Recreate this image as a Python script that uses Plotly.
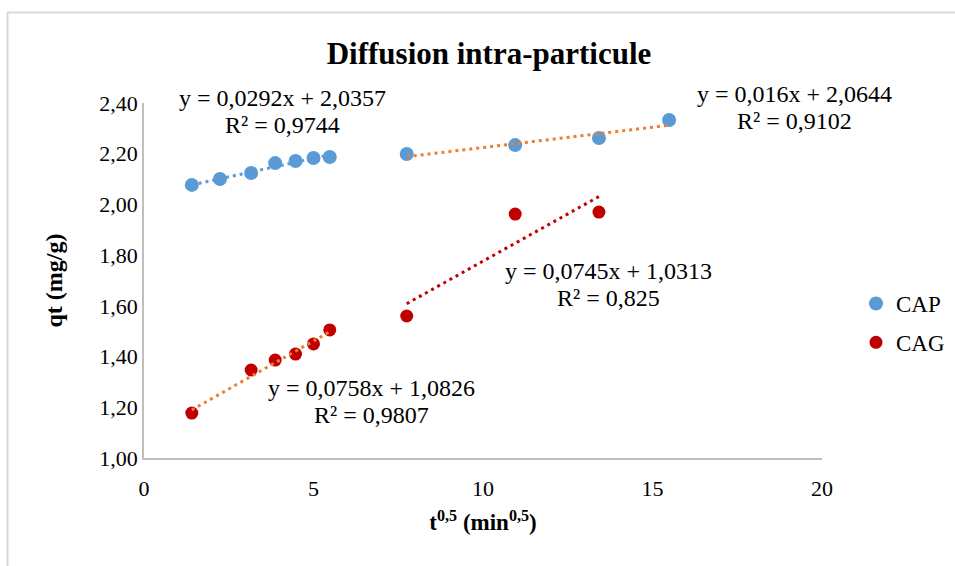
import plotly.graph_objects as go
import numpy as np

# ---- data ----
cap_x = [1.41, 2.24, 3.16, 3.87, 4.47, 5.00, 5.48, 7.75, 10.95, 13.42, 15.49]
cap_y = [2.077, 2.100, 2.124, 2.163, 2.171, 2.183, 2.187, 2.199, 2.234, 2.262, 2.333]
cag_x = [1.41, 3.16, 3.87, 4.47, 5.00, 5.48, 7.75, 10.95, 13.42]
cag_y = [1.177, 1.347, 1.386, 1.410, 1.450, 1.505, 1.560, 1.962, 1.970]

# trendlines: (x-start, x-end, slope, intercept)
trend_x0 = [1.41, 7.75, 1.41, 7.75]
trend_x1 = [5.48, 15.49, 5.48, 13.42]
trend_slope = [0.0292, 0.016, 0.0758, 0.0745]
trend_icpt = [2.0357, 2.0644, 1.0826, 1.0313]
trend_color = ["#5B9BD5", "#ED7D31", "#ED7D31", "#C00000"]
eq_line1 = ["y = 0,0292x + 2,0357", "y = 0,016x + 2,0644",
            "y = 0,0758x + 1,0826", "y = 0,0745x + 1,0313"]
eq_line2 = ["R² = 0,9744", "R² = 0,9102", "R² = 0,9807", "R² = 0,825"]
# label anchor positions in data units (x centre, y of first line)
eq_x = [4.1, 19.2, 6.7, 13.7]
eq_y = [2.418, 2.437, 1.277, 1.737]

x_ticks = [0, 5, 10, 15, 20]
y_ticks = [1.0, 1.2, 1.4, 1.6, 1.8, 2.0, 2.2, 2.4]
y_ticklabels = [f"{v:.2f}".replace(".", ",") for v in y_ticks]

FONT = "Liberation Serif"
W, H = 955, 566
L, R, T, B = 144, 133, 103, 108
XR = [0, 20]
YR = [1.0, 2.4]

fig = go.Figure()

def trend_trace(i):
    xs = np.array([trend_x0[i], trend_x1[i]])
    ys = trend_slope[i] * xs + trend_icpt[i]
    return go.Scatter(x=xs, y=ys, mode="lines",
                      line=dict(color=trend_color[i], width=3, dash="3px,4px"),
                      showlegend=False, hoverinfo="skip")

fig.add_trace(go.Scatter(x=cap_x, y=cap_y, mode="markers", name="CAP",
                         legendgroup="a",
                         marker=dict(color="#5B9BD5", size=14)))
fig.add_trace(go.Scatter(x=cag_x, y=cag_y, mode="markers", name="CAG",
                         legendgroup="b",
                         marker=dict(color="#C00000", size=13)))
for i in range(4):
    fig.add_trace(trend_trace(i))

# annotations in paper coordinates (computed from data values) so they are not clipped
def dx2paper(x):
    return (x - XR[0]) / (XR[1] - XR[0])
def dy2paper(y):
    return (y - YR[0]) / (YR[1] - YR[0])

anns = []
for i in range(4):
    anns.append(dict(x=dx2paper(eq_x[i]), y=dy2paper(eq_y[i]), xref="paper", yref="paper",
                     text=eq_line1[i], showarrow=False, xanchor="center", yanchor="middle",
                     font=dict(family=FONT, size=24, color="#000")))
    anns.append(dict(x=dx2paper(eq_x[i]), y=dy2paper(eq_y[i]), xref="paper", yref="paper",
                     text=eq_line2[i], showarrow=False, xanchor="center", yanchor="middle",
                     yshift=-27, font=dict(family=FONT, size=24, color="#000")))

# outer chart border (light gray), computed from pixel positions
pw, ph = W - L - R, H - T - B
def px2paper_x(px):
    return (px - L) / pw
def px2paper_y(py):
    return (H - B - py) / ph

shapes = [
    dict(type="line", xref="paper", yref="paper",
         x0=px2paper_x(7), x1=px2paper_x(W + 5), y0=px2paper_y(12.5), y1=px2paper_y(12.5),
         line=dict(color="#D9D9D9", width=2)),
    dict(type="line", xref="paper", yref="paper",
         x0=px2paper_x(7.5), x1=px2paper_x(7.5), y0=px2paper_y(12), y1=px2paper_y(H + 5),
         line=dict(color="#D9D9D9", width=2)),
]

fig.update_layout(
    width=W, height=H,
    margin=dict(l=L, r=R, t=T, b=B, autoexpand=False),
    paper_bgcolor="white", plot_bgcolor="white",
    title=dict(text="<b>Diffusion intra-particule</b>", x=(L + pw / 2 + 6) / W, xanchor="center",
               y=1 - 53 / H, yanchor="middle",
               font=dict(family=FONT, size=31, color="#000")),
    font=dict(family=FONT, color="#000"),
    xaxis=dict(range=XR, tickvals=x_ticks, ticktext=[str(v) for v in x_ticks],
               showgrid=False, zeroline=False, showline=True, linecolor="#BFBFBF",
               linewidth=1.5, ticks="", ticklabelstandoff=10,
               tickfont=dict(family=FONT, size=22, color="#000"),
               title=dict(text="<b>t<sup>0,5</sup> (min<sup>0,5</sup>)</b>",
                          font=dict(family=FONT, size=23, color="#000"), standoff=14)),
    yaxis=dict(range=YR, tickvals=y_ticks, ticktext=y_ticklabels,
               showgrid=False, zeroline=False, showline=True, linecolor="#BFBFBF",
               linewidth=1.5, ticks="", tickfont=dict(family=FONT, size=22, color="#000"),
               title=dict(text="<b>qt (mg/g)</b>",
                          font=dict(family=FONT, size=24, color="#000"), standoff=30)),
    legend=dict(x=px2paper_x(856), y=px2paper_y(282), xanchor="left", yanchor="top",
                font=dict(family=FONT, size=23, color="#000"),
                tracegroupgap=6, traceorder="grouped", itemwidth=30,
                bgcolor="rgba(0,0,0,0)"),
    annotations=anns,
    shapes=shapes,
)

fig.write_html("out.html")
